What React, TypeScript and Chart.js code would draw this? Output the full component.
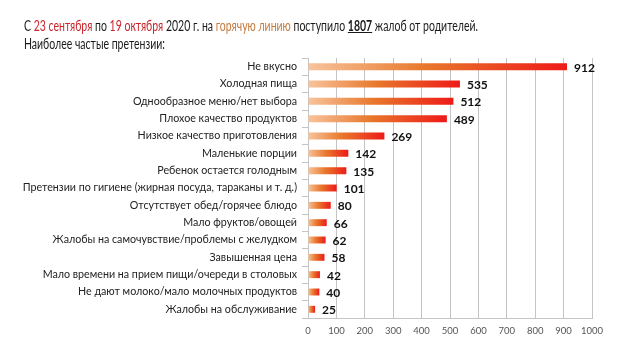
import React, { useEffect, useRef } from "react";
import { Chart, registerables } from "chart.js";

Chart.register(...registerables);

const categories = [
  "Не вкусно",
  "Холодная пища",
  "Однообразное меню/нет выбора",
  "Плохое качество продуктов",
  "Низкое качество приготовления",
  "Маленькие порции",
  "Ребенок остается голодным",
  "Претензии по гигиене (жирная посуда, тараканы и т. д.)",
  "Отсутствует обед/горячее блюдо",
  "Мало фруктов/овощей",
  "Жалобы на самочувствие/проблемы с желудком",
  "Завышенная цена",
  "Мало времени на прием пищи/очереди в столовых",
  "Не дают молоко/мало молочных продуктов",
  "Жалобы на обслуживание",
];
const complaints = [912, 535, 512, 489, 269, 142, 135, 101, 80, 66, 62, 58, 42, 40, 25];
const xTicks = [0, 100, 200, 300, 400, 500, 600, 700, 800, 900, 1000];

const FONT = "Lato, 'Open Sans', sans-serif";
const TITLE_WIDTH = 454;

const valueLabels = {
  id: "valueLabels",
  afterDatasetsDraw(chart: any) {
    const ctx = chart.ctx;
    const meta = chart.getDatasetMeta(0);
    ctx.save();
    ctx.font = `bold 12px ${FONT}`;
    ctx.fillStyle = "#111";
    ctx.textAlign = "left";
    ctx.textBaseline = "middle";
    meta.data.forEach((el: any, i: number) => {
      ctx.fillText(String(complaints[i]), el.x + 7, el.y + 1);
    });
    ctx.restore();
  },
};

export default function App() {
  const ref = useRef<HTMLCanvasElement>(null);
  const titleRef = useRef<HTMLDivElement>(null);
  const line1Ref = useRef<HTMLSpanElement>(null);

  useEffect(() => {
    if (titleRef.current && line1Ref.current) {
      const w = line1Ref.current.getBoundingClientRect().width;
      if (w > 0) titleRef.current.style.transform = `scaleX(${TITLE_WIDTH / w})`;
    }
    if (!ref.current) return;
    const chart = new Chart(ref.current, {
      type: "bar",
      data: {
        labels: categories,
        datasets: [
          {
            data: complaints,
            barPercentage: 0.8,
            categoryPercentage: 0.5,
            backgroundColor: (c: any) => {
              const ch = c.chart;
              const xs = ch.scales && ch.scales.x;
              if (!ch.chartArea || !xs || c.raw == null) return "#e8601c";
              const x0 = xs.getPixelForValue(0);
              const x1 = xs.getPixelForValue(c.raw);
              const g = ch.ctx.createLinearGradient(x0, 0, Math.max(x1, x0 + 1), 0);
              g.addColorStop(0, "#f8c49c");
              g.addColorStop(0.45, "#e8782c");
              g.addColorStop(1, "#ee1a18");
              return g;
            },
          },
        ],
      },
      options: {
        indexAxis: "y",
        animation: false,
        responsive: false,
        maintainAspectRatio: false,
        layout: { padding: { top: 58, right: 48, left: 0, bottom: 0 } },
        plugins: { legend: { display: false }, tooltip: { enabled: false } },
        scales: {
          x: {
            min: 0,
            max: 1000,
            afterBuildTicks: (s: any) => {
              s.ticks = xTicks.map((v) => ({ value: v }));
            },
            afterFit: (s: any) => {
              s.height = 39;
            },
            grid: { color: "#c4c4c4", drawTicks: false, lineWidth: 1 },
            border: { color: "#c4c4c4" },
            ticks: {
              color: "#555",
              font: { family: FONT, size: 9.5 },
              padding: 7,
              maxRotation: 0,
              callback: (v: any) => String(v),
            },
          },
          y: {
            afterFit: (s: any) => {
              s.width = 308;
            },
            grid: {
              offset: true,
              drawOnChartArea: false,
              tickLength: 6,
              color: "#c4c4c4",
            },
            border: { color: "#c4c4c4" },
            ticks: {
              color: "#222",
              font: { family: FONT, size: 10.7 },
              padding: 5,
              autoSkip: false,
            },
          },
        },
      },
      plugins: [valueLabels],
    });
    return () => chart.destroy();
  }, []);

  return (
    <div
      style={{
        position: "fixed",
        left: 0,
        top: 0,
        width: 640,
        height: 357,
        background: "#fff",
        fontFamily: FONT,
      }}
    >
      <canvas ref={ref} width={640} height={357} style={{ position: "absolute", left: 0, top: 0 }} />
      <div
        ref={titleRef}
        style={{
          position: "absolute",
          left: 24,
          top: 17,
          fontSize: 14.5,
          lineHeight: "18px",
          color: "#1a1a1a",
          whiteSpace: "nowrap",
          transformOrigin: "0 0",
        }}
      >
        <div>
          <span ref={line1Ref}>
            С <span style={{ color: "#c8262c" }}>23 сентября</span> по{" "}
            <span style={{ color: "#c8262c" }}>19 октября</span> 2020 г. на{" "}
            <span style={{ color: "#c47a3c" }}>горячую линию</span> поступило{" "}
            <b style={{ textDecoration: "underline" }}>1807</b> жалоб от родителей.
          </span>
        </div>
        <div>Наиболее частые претензии:</div>
      </div>
    </div>
  );
}
